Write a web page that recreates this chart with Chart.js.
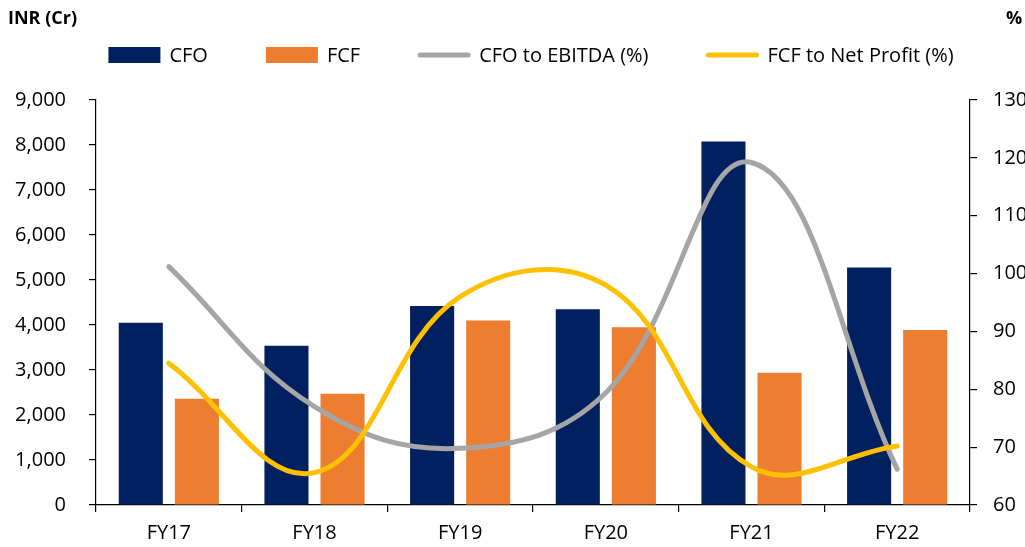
<!DOCTYPE html>
<html>
<head>
<meta charset="utf-8">
<title>CFO and FCF</title>
<script src="https://cdn.jsdelivr.net/npm/chart.js@4.4.1/dist/chart.umd.min.js"></script>
<style>
  html, body { margin: 0; padding: 0; background: #ffffff; }
  #wrap { width: 1025px; height: 547px; position: relative; }
</style>
</head>
<body>
<div id="wrap"><canvas id="chart" width="1025" height="547"></canvas></div>
<script>
// Fiscal years on the category axis
const categories = ['FY17', 'FY18', 'FY19', 'FY20', 'FY21', 'FY22'];

// Cash flows, INR crore (left axis)
const cfo = [4050, 3540, 4420, 4350, 8080, 5280];
const fcf = [2360, 2470, 4100, 3950, 2940, 3890];

// Conversion ratios, percent (right axis)
const cfoToEbitda = [101.2, 77.0, 69.8, 79.4, 119.2, 66.2];
const fcfToNetProfit = [84.5, 65.6, 96.0, 98.0, 66.6, 70.2];

// Axis ranges: [min, max, step]
const leftAxisRange = [0, 9000, 1000];
const rightAxisRange = [60, 130, 10];

// Series names and axis units
const seriesNames = ['CFO', 'FCF', 'CFO to EBITDA (%)', 'FCF to Net Profit (%)'];
const leftUnit = 'INR (Cr)';
const rightUnit = '%';

const FONT = '"Open Sans", "Liberation Sans", sans-serif';
const INK = '#000000';

// Draws the unit captions and the legend row above the plot
const headerPlugin = {
  id: 'header',
  afterDraw(chart) {
    const ctx = chart.ctx;
    ctx.save();
    ctx.fillStyle = INK;
    ctx.textBaseline = 'middle';
    ctx.textAlign = 'left';
    ctx.font = 'bold 18px ' + FONT;
    ctx.fillText(leftUnit, 8, 19);
    ctx.fillText(rightUnit, 1006, 19);

    ctx.font = '20px ' + FONT;
    const keyW = 52, gap = 9, spacing = 58, cy = 55;
    const items = chart.data.datasets.map(ds => ({
      label: ds.label,
      isLine: ds.type === 'line',
      color: ds.type === 'line' ? ds.borderColor : ds.backgroundColor,
      tw: ctx.measureText(ds.label).width
    }));
    let total = 0;
    items.forEach((it, i) => { total += keyW + gap + it.tw + (i ? spacing : 0); });
    let x = 531 - total / 2;
    items.forEach(it => {
      if (it.isLine) {
        ctx.strokeStyle = it.color;
        ctx.lineWidth = 5;
        ctx.lineCap = 'round';
        ctx.beginPath();
        ctx.moveTo(x + 2, cy);
        ctx.lineTo(x + keyW - 2, cy);
        ctx.stroke();
      } else {
        ctx.fillStyle = it.color;
        ctx.fillRect(x, cy - 8, keyW, 16);
      }
      ctx.fillStyle = INK;
      ctx.fillText(it.label, x + keyW + gap, cy + 1);
      x += keyW + gap + it.tw + spacing;
    });
    ctx.restore();
  }
};

const axisLine = { display: true, color: INK, width: 1.2 };
const tickGrid = { display: true, drawOnChartArea: false, drawTicks: true, tickLength: 7, color: INK, lineWidth: 1.2 };

new Chart(document.getElementById('chart'), {
  type: 'bar',
  data: {
    labels: categories,
    datasets: [
      {
        label: seriesNames[0], data: cfo, backgroundColor: '#002060',
        yAxisID: 'y', order: 3,
        categoryPercentage: 0.77, barPercentage: 0.786
      },
      {
        label: seriesNames[1], data: fcf, backgroundColor: '#ED7D31',
        yAxisID: 'y', order: 3,
        categoryPercentage: 0.77, barPercentage: 0.786
      },
      {
        type: 'line', label: seriesNames[2], data: cfoToEbitda,
        borderColor: '#A5A5A5', backgroundColor: '#A5A5A5', borderWidth: 5,
        borderCapStyle: 'round', borderJoinStyle: 'round',
        pointRadius: 0, tension: 0.4, fill: false, yAxisID: 'y1', order: 2
      },
      {
        type: 'line', label: seriesNames[3], data: fcfToNetProfit,
        borderColor: '#FFC000', backgroundColor: '#FFC000', borderWidth: 5,
        borderCapStyle: 'round', borderJoinStyle: 'round',
        pointRadius: 0, tension: 0.4, fill: false, yAxisID: 'y1', order: 1
      }
    ]
  },
  options: {
    responsive: false,
    animation: false,
    devicePixelRatio: 1,
    layout: { padding: { top: 100, left: 0, right: 0, bottom: 0 } },
    plugins: {
      legend: { display: false },
      tooltip: { enabled: false },
      title: { display: false }
    },
    scales: {
      x: {
        offset: true,
        grid: Object.assign({ offset: true }, tickGrid),
        border: axisLine,
        ticks: { color: INK, font: { family: FONT, size: 20 }, padding: 9, maxRotation: 0 },
        afterFit(scale) { scale.height = 42; }
      },
      y: {
        position: 'left',
        min: leftAxisRange[0], max: leftAxisRange[1],
        grid: tickGrid,
        border: axisLine,
        ticks: {
          stepSize: leftAxisRange[2], color: INK, padding: 23,
          font: { family: FONT, size: 20 },
          callback: v => v.toLocaleString('en-US')
        },
        afterFit(scale) { scale.width = 96; }
      },
      y1: {
        position: 'right',
        min: rightAxisRange[0], max: rightAxisRange[1],
        grid: tickGrid,
        border: axisLine,
        ticks: {
          stepSize: rightAxisRange[2], color: INK, padding: 16,
          font: { family: FONT, size: 20 }
        },
        afterFit(scale) { scale.width = 55; }
      }
    }
  },
  plugins: [headerPlugin]
});
</script>
</body>
</html>
